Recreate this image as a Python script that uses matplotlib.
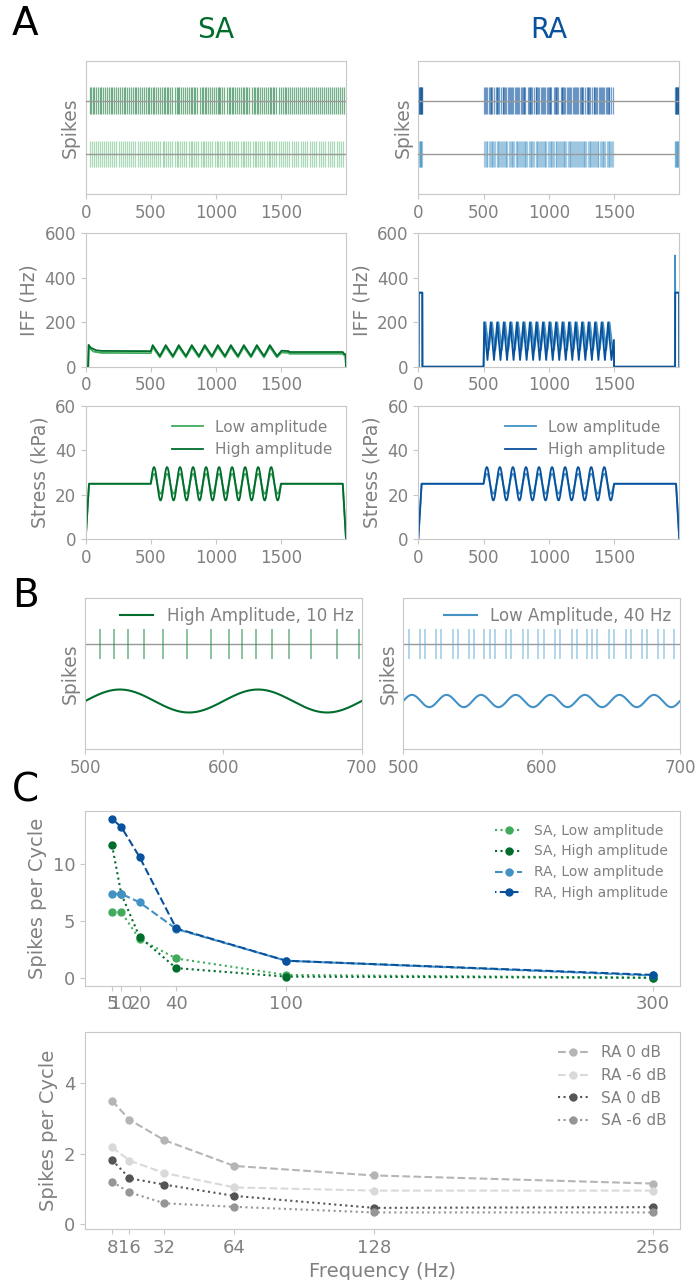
import numpy as np
import matplotlib
matplotlib.use("Agg")
import matplotlib.pyplot as plt

# colours
SA_LOW = "#41ab5d"
SA_HIGH = "#006d2c"
RA_LOW = "#4292c6"
RA_HIGH = "#08519c"
TEXT = "#808080"
SPINE = "#c8c8c8"

# ---- stimulus (ms, kPa)
RAMP_T = [0, 25, 1975, 2000]
RAMP_KPA = [0, 25, 25, 0]
VIB_START, VIB_END = 500, 1500
VIB_FREQ_HZ = 10
AMP_LOW_KPA = 4.5
AMP_HIGH_KPA = 7.5

# ---- IFF traces (ms, Hz)
SA_PEAK_T = [515, 615, 715, 815, 915, 1015, 1115, 1215, 1315, 1415]
SA_TROUGH_T = [570, 670, 770, 870, 970, 1070, 1170, 1270, 1370, 1470]
SA_HIGH_ONSET_T = [0, 18, 22, 40, 80, 120, 500]
SA_HIGH_ONSET_HZ = [0, 0, 98, 85, 74, 71, 70]
SA_HIGH_VIB_HZ = [97, 48]
SA_HIGH_OFFSET_T = [1505, 1560, 1565, 1975, 1985, 1996, 2000]
SA_HIGH_OFFSET_HZ = [72, 70, 66, 66, 58, 56, 0]
SA_LOW_ONSET_T = [0, 20, 25, 60, 120, 500]
SA_LOW_ONSET_HZ = [0, 0, 86, 68, 62, 61]
SA_LOW_VIB_HZ = [88, 42]
SA_LOW_OFFSET_T = [1505, 1560, 1565, 1975, 1985, 1996, 2000]
SA_LOW_OFFSET_HZ = [64, 62, 58, 58, 52, 50, 0]

RA_PEAK_T = [505, 555, 605, 655, 705, 755, 805, 855, 905, 955,
             1005, 1055, 1105, 1155, 1205, 1255, 1305, 1355, 1405, 1455]
RA_HIGH_ONSET_T = [0, 2, 3, 31, 32, 500, 501]
RA_HIGH_ONSET_HZ = [0, 0, 333, 333, 0, 0, 60]
RA_HIGH_VIB_HZ = [200, 30]
RA_HIGH_OFFSET_T = [1499, 1500, 1968, 1969, 1999, 2000]
RA_HIGH_OFFSET_HZ = [120, 0, 0, 333, 333, 0]
RA_LOW_ONSET_T = [0, 3, 4, 30, 31, 500, 502]
RA_LOW_ONSET_HZ = [0, 0, 333, 333, 0, 0, 40]
RA_LOW_VIB_HZ = [200, 75]
RA_LOW_OFFSET_T = [1499, 1500, 1966, 1967, 1969, 1998, 2000]
RA_LOW_OFFSET_HZ = [90, 0, 0, 500, 333, 333, 0]

# ---- panel B (ms)
B_SA_SPIKES = [510.9, 520.6, 530.7, 542.5, 556.4, 573.4, 591.0, 604.2,
               613.6, 623.7, 634.9, 647.4, 663.1, 682.1, 697.8]
B_RA_SPIKES = [503.9, 511.9, 515.9, 523.6, 527.5, 535.7, 539.5, 547.7,
               551.3, 558.5, 562.7, 566.3, 574.0, 578.1, 586.3, 589.9,
               597.6, 601.9, 609.6, 613.5, 621.7, 625.8, 632.6, 636.4,
               640.2, 648.5, 652.5, 660.8, 664.4, 672.3, 675.9, 684.1,
               688.2, 695.9]
B_SA_FREQ_HZ = 10
B_RA_FREQ_HZ = 40
B_RA_AMP_KPA = 4.0

# ---- panel C
FREQ_TOP = [5, 10, 20, 40, 100, 300]
SA_LOW_SPC = [5.8, 5.8, 3.4, 1.7, 0.25, 0.0]
SA_HIGH_SPC = [11.7, 7.4, 3.6, 0.85, 0.1, 0.0]
RA_LOW_SPC = [7.4, 7.4, 6.65, 4.3, 1.5, 0.2]
RA_HIGH_SPC = [14.0, 13.3, 10.65, 4.35, 1.5, 0.25]

FREQ_BOT = [8, 16, 32, 64, 128, 256]
RA_0DB = [3.5, 2.96, 2.38, 1.65, 1.38, 1.15]
RA_6DB = [2.18, 1.8, 1.45, 1.04, 0.95, 0.95]
SA_0DB = [1.82, 1.3, 1.12, 0.8, 0.46, 0.48]
SA_6DB = [1.2, 0.9, 0.59, 0.49, 0.33, 0.33]


def vib_trace(onset_t, onset_hz, peak_t, trough_t, vib_hz, offset_t, offset_hz):
    """joins onset, oscillation keypoints and offset into one IFF trace"""
    t = list(onset_t)
    v = list(onset_hz)
    for p, q in zip(peak_t, trough_t):
        t += [p, q]
        v += vib_hz
    return np.array(t + list(offset_t)), np.array(v + list(offset_hz))


def spikes_from_rate(t_key, hz_key):
    """spike times where the integrated rate crosses a whole number"""
    grid = np.arange(0, 2000, 0.1)
    cum = np.cumsum(np.interp(grid, t_key, hz_key)) * 0.1 / 1000
    return grid[1:][np.diff(np.floor(cum)) > 0]


def stress(t, amp, freq, start, end):
    s = np.interp(t, RAMP_T, RAMP_KPA)
    win = (t >= start) & (t <= end)
    s[win] += amp * np.sin(2 * np.pi * freq * (t[win] - start) / 1000)
    return s


def style(ax, size=12):
    for sp in ax.spines.values():
        sp.set_color(SPINE)
    ax.tick_params(colors=SPINE, labelcolor=TEXT, labelsize=size, length=3.5)
    ax.yaxis.label.set_color(TEXT)
    ax.xaxis.label.set_color(TEXT)


ra_trough = [p + 25 for p in RA_PEAK_T]
ra_low_peak = [p + 10 for p in RA_PEAK_T]
ra_low_trough = [p + 35 for p in RA_PEAK_T]

iff = {
    "SA": [
        vib_trace(SA_LOW_ONSET_T, SA_LOW_ONSET_HZ, SA_PEAK_T, SA_TROUGH_T,
                  SA_LOW_VIB_HZ, SA_LOW_OFFSET_T, SA_LOW_OFFSET_HZ),
        vib_trace(SA_HIGH_ONSET_T, SA_HIGH_ONSET_HZ, SA_PEAK_T, SA_TROUGH_T,
                  SA_HIGH_VIB_HZ, SA_HIGH_OFFSET_T, SA_HIGH_OFFSET_HZ),
    ],
    "RA": [
        vib_trace(RA_LOW_ONSET_T, RA_LOW_ONSET_HZ, ra_low_peak, ra_low_trough,
                  RA_LOW_VIB_HZ, RA_LOW_OFFSET_T, RA_LOW_OFFSET_HZ),
        vib_trace(RA_HIGH_ONSET_T, RA_HIGH_ONSET_HZ, RA_PEAK_T, ra_trough,
                  RA_HIGH_VIB_HZ, RA_HIGH_OFFSET_T, RA_HIGH_OFFSET_HZ),
    ],
}
colors = {"SA": (SA_LOW, SA_HIGH), "RA": (RA_LOW, RA_HIGH)}

W, H = 697, 1280
fig = plt.figure(figsize=(W / 100, H / 100), dpi=100)


def rect(x0, y0, x1, y1):
    return [x0 / W, 1 - y1 / H, (x1 - x0) / W, (y1 - y0) / H]


t_full = np.arange(0, 2000.5, 0.5)
col_x = {"SA": (85.7, 346), "RA": (418.3, 679.3)}

for name in ["SA", "RA"]:
    x0, x1 = col_x[name]
    c_low, c_high = colors[name]

    # spikes
    ax = fig.add_axes(rect(x0, 60.7, x1, 194))
    low_sp = spikes_from_rate(*iff[name][0])
    high_sp = spikes_from_rate(*iff[name][1])
    ax.axhline(1, color="#999999", lw=1, zorder=3)
    ax.axhline(0, color="#999999", lw=1, zorder=3)
    ax.eventplot(high_sp, lineoffsets=1, linelengths=0.5, colors=c_high,
                 linewidths=0.9, alpha=0.55)
    ax.eventplot(low_sp, lineoffsets=0, linelengths=0.5, colors=c_low,
                 linewidths=0.9, alpha=0.45)
    ax.set_ylim(-0.75, 1.75)
    ax.set_yticks([])
    ax.set_xlim(0, 2000)
    ax.set_xticks([0, 500, 1000, 1500])
    ax.set_ylabel("Spikes", fontsize=13.5)
    ax.set_title(name, color=c_high, fontsize=20, pad=16)
    style(ax)

    # IFF
    ax = fig.add_axes(rect(x0, 233.3, x1, 366.7))
    for (tk, hz), c in zip(iff[name], (c_low, c_high)):
        ax.plot(tk, hz, color=c, lw=1.3)
    ax.set_xlim(0, 2000)
    ax.set_ylim(0, 600)
    ax.set_xticks([0, 500, 1000, 1500])
    ax.set_yticks([0, 200, 400, 600])
    ax.set_ylabel("IFF (Hz)", fontsize=13.5)
    style(ax)

    # stress
    ax = fig.add_axes(rect(x0, 406, x1, 539.3))
    ax.plot(t_full, stress(t_full, AMP_LOW_KPA, VIB_FREQ_HZ, VIB_START, VIB_END),
            color=c_low, lw=1.3, label="Low amplitude")
    ax.plot(t_full, stress(t_full, AMP_HIGH_KPA, VIB_FREQ_HZ, VIB_START, VIB_END),
            color=c_high, lw=1.3, label="High amplitude")
    ax.set_xlim(0, 2000)
    ax.set_ylim(0, 60)
    ax.set_xticks([0, 500, 1000, 1500])
    ax.set_yticks([0, 20, 40, 60])
    ax.set_ylabel("Stress (kPa)", fontsize=13.5)
    ax.legend(frameon=False, fontsize=11, loc="upper right", labelcolor=TEXT)
    style(ax)

# panel B
t_b = np.arange(500, 700.25, 0.25)
b_specs = [
    ((85.3, 361.7), B_SA_SPIKES, SA_HIGH, "#238b45", AMP_HIGH_KPA, B_SA_FREQ_HZ,
     "High Amplitude, 10 Hz"),
    ((403.3, 680), B_RA_SPIKES, RA_LOW, "#6baed6", B_RA_AMP_KPA, B_RA_FREQ_HZ,
     "Low Amplitude, 40 Hz"),
]
for (x0, x1), sp, c_line, c_sp, amp, freq, lab in b_specs:
    ax = fig.add_axes(rect(x0, 598.3, x1, 749.3))
    ax.axhline(62, color="#999999", lw=1)
    ax.eventplot(sp, lineoffsets=62, linelengths=19.6, colors=c_sp,
                 linewidths=1.2, alpha=0.6)
    ax.plot(t_b, stress(t_b, amp, freq, 500, 700), color=c_line, lw=1.5, label=lab)
    ax.set_xlim(500, 700)
    ax.set_ylim(-6.5, 92)
    ax.set_yticks([])
    ax.set_xticks([500, 600, 700])
    ax.set_ylabel("Spikes", fontsize=13.5)
    ax.legend(frameon=False, fontsize=12, loc="upper right", labelcolor=TEXT,
              borderaxespad=0.1)
    style(ax)

# panel C top
ax = fig.add_axes(rect(85, 811, 680, 985.7))
ax.plot(FREQ_TOP, SA_LOW_SPC, ":o", color=SA_LOW, ms=5, label="SA, Low amplitude")
ax.plot(FREQ_TOP, SA_HIGH_SPC, ":o", color=SA_HIGH, ms=5, label="SA, High amplitude")
ax.plot(FREQ_TOP, RA_LOW_SPC, marker="o", ls=(0, (3.7, 1.6)), color=RA_LOW,
        ms=5, label="RA, Low amplitude")
ax.plot(FREQ_TOP, RA_HIGH_SPC, marker="o", ls=(3, (3.7, 1.6)), color=RA_HIGH,
        ms=5, label="RA, High amplitude")
ax.set_xticks(FREQ_TOP)
ax.set_yticks([0, 5, 10])
ax.set_ylabel("Spikes per Cycle", fontsize=14)
ax.legend(frameon=False, fontsize=10, loc="upper right", labelcolor=TEXT)
style(ax, 13)

# panel C bottom
ax = fig.add_axes(rect(85, 1031.7, 680, 1229))
ax.plot(FREQ_BOT, RA_0DB, "--o", color="#b5b5b5", ms=5, label="RA 0 dB")
ax.plot(FREQ_BOT, RA_6DB, "--o", color="#d9d9d9", ms=5, label="RA -6 dB")
ax.plot(FREQ_BOT, SA_0DB, ":o", color="#555555", ms=5, label="SA 0 dB")
ax.plot(FREQ_BOT, SA_6DB, ":o", color="#969696", ms=5, label="SA -6 dB")
ax.set_xticks(FREQ_BOT)
ax.set_yticks([0, 2, 4])
ax.set_ylim(-0.14, 5.46)
ax.set_ylabel("Spikes per Cycle", fontsize=14)
ax.set_xlabel("Frequency (Hz)", fontsize=14)
ax.legend(frameon=False, fontsize=11, loc="upper right", labelcolor=TEXT)
style(ax, 13)

for letter, y in [("A", 5), ("B", 577), ("C", 772)]:
    fig.text(12 / W, 1 - y / H, letter, fontsize=28, va="top", ha="left")

fig.savefig("out.png", dpi=100)
